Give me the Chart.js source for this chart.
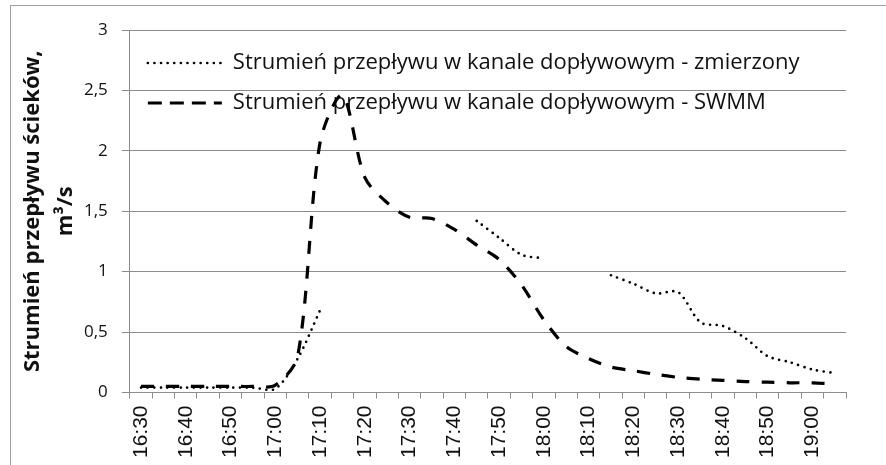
<!DOCTYPE html>
<html>
<head>
<meta charset="utf-8">
<script src="https://cdn.jsdelivr.net/npm/chart.js@4/dist/chart.umd.min.js"></script>
<style>
  html, body { margin: 0; padding: 0; background: #fff; }
  #wrap { position: relative; width: 886px; height: 465px; }
</style>
</head>
<body>
<div id="wrap"><canvas id="c" width="886" height="465"></canvas></div>
<script>
// ---- data ----
const categories = ['16:30','16:35','16:40','16:45','16:50','16:55','17:00','17:05','17:10','17:15','17:20','17:25','17:30','17:35','17:40','17:45','17:50','17:55','18:00','18:05','18:10','18:15','18:20','18:25','18:30','18:35','18:40','18:45','18:50','18:55','19:00','19:05'];
const tickLabels = ['16:30','16:40','16:50','17:00','17:10','17:20','17:30','17:40','17:50','18:00','18:10','18:20','18:30','18:40','18:50','19:00'];
const measured = [0.04,0.04,0.04,0.04,0.04,0.04,0.03,0.28,0.68,null,null,null,null,null,null,1.42,1.28,1.14,1.11,null,null,0.97,0.90,0.82,0.83,0.58,0.55,0.45,0.30,0.25,0.19,0.16];
const swmm = [0.05,0.05,0.05,0.05,0.05,0.05,0.06,0.30,2.07,2.46,1.78,1.57,1.45,1.44,1.35,1.22,1.10,0.89,0.60,0.38,0.28,0.21,0.18,0.15,0.125,0.11,0.10,0.09,0.085,0.08,0.08,0.07];
const seriesNames = ['Strumień przepływu w kanale dopływowym - zmierzony', 'Strumień przepływu w kanale dopływowym - SWMM'];
const yTitle = ['Strumień przepływu ścieków,', 'm³/s'];

const GRID = '#8c8c8c';

const frame = {
  id: 'frame',
  beforeDraw(chart) {
    const ctx = chart.ctx;
    ctx.save();
    ctx.fillStyle = '#fff';
    ctx.fillRect(0, 0, chart.width, chart.height);
    ctx.strokeStyle = '#a0a0a0';
    ctx.lineWidth = 1;
    ctx.strokeRect(10.5, 5.5, 1000, 1000);
    ctx.restore();
  }
};

new Chart(document.getElementById('c'), {
  type: 'line',
  data: {
    labels: categories,
    datasets: [
      {
        label: seriesNames[0],
        data: measured,
        borderColor: '#000',
        backgroundColor: '#000',
        borderWidth: 2.7,
        borderDash: [0, 6.6],
        borderCapStyle: 'round',
        pointRadius: 0,
        tension: 0.3,
        spanGaps: false,
        fill: false
      },
      {
        label: seriesNames[1],
        data: swmm,
        borderColor: '#000',
        backgroundColor: '#000',
        borderWidth: 3.2,
        borderDash: [13, 12],
        borderCapStyle: 'butt',
        pointRadius: 0,
        tension: 0.3,
        fill: false
      }
    ]
  },
  options: {
    responsive: false,
    animation: false,
    devicePixelRatio: 1,
    layout: { padding: { left: 4, right: 40, top: 30, bottom: 0 } },
    plugins: {
      legend: {
        position: 'chartArea',
        align: 'start',
        title: { display: true, text: '', font: { size: 10, lineHeight: 1.2 }, padding: 11 },
        labels: {
          usePointStyle: true,
          pointStyle: 'line',
          pointStyleWidth: 74,
          padding: 18,
          color: '#111',
          font: { family: "'Open Sans', sans-serif", size: 22 },
          generateLabels: function(chart) {
            const items = Chart.defaults.plugins.legend.labels.generateLabels(chart);
            items.forEach((it, i) => {
              const ds = chart.data.datasets[i];
              it.lineDash = i === 1 ? [14, 8] : ds.borderDash;
              it.lineCap = ds.borderCapStyle;
              it.lineWidth = ds.borderWidth;
              it.strokeStyle = ds.borderColor;
              it.pointStyle = 'line';
            });
            return items;
          }
        }
      },
      tooltip: { enabled: false }
    },
    scales: {
      x: {
        type: 'category',
        offset: true,
        grid: { display: true, drawOnChartArea: false, drawTicks: true, tickLength: 6, offset: true, color: GRID },
        border: { display: true, color: GRID, width: 1 },
        ticks: {
          autoSkip: false,
          maxRotation: 90,
          minRotation: 90,
          padding: 7,
          color: '#111',
          font: { family: "'Liberation Sans Narrow', 'Liberation Sans', Arial, sans-serif", size: 21 },
          callback: function(value, index) {
            const c = categories[index];
            return tickLabels.includes(c) ? c : '';
          }
        }
      },
      y: {
        min: 0,
        max: 3,
        ticks: {
          stepSize: 0.5,
          padding: 14,
          color: '#111',
          font: { family: "'Open Sans', sans-serif", size: 17 },
          callback: v => String(v).replace('.', ',')
        },
        grid: { color: GRID, lineWidth: 1, drawTicks: true, tickLength: 8 },
        border: { display: true, color: GRID, width: 1 },
        title: {
          display: true,
          text: yTitle,
          color: '#111',
          padding: { top: 12, bottom: -12 },
          font: { family: "'Open Sans', sans-serif", size: 22, weight: 'bold', lineHeight: 1.5 }
        }
      }
    }
  },
  plugins: [frame]
});
</script>
</body>
</html>
